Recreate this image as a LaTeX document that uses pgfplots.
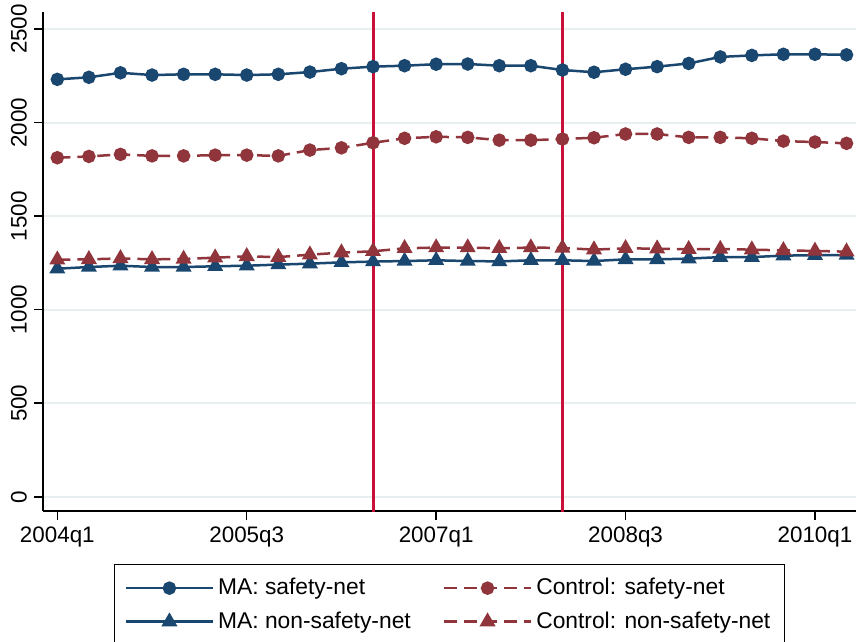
\documentclass[border=0pt]{standalone}
\usepackage{fontspec}
\setmainfont{Liberation Sans}
\usepackage{pgfplots}
\usepackage{pgfplotstable}
\pgfplotsset{compat=1.18}
\definecolor{stnavy}{RGB}{26,71,111}
\definecolor{stmaroon}{RGB}{144,53,59}
\definecolor{stcran}{RGB}{200,16,56}
\definecolor{stgrid}{RGB}{232,239,241}

\pgfplotstableread{
q masn ctsn mans ctns
0 2231 1812 1219 1267
1 2242 1819 1228 1269
2 2266 1830 1235 1274
3 2254 1822 1228 1269
4 2258 1822 1228 1271
5 2258 1826 1232 1278
6 2254 1826 1235 1285
7 2258 1822 1241 1281
8 2270 1853 1246 1294
9 2288 1865 1253 1305
10 2299 1892 1257 1312
11 2304 1916 1260 1328
12 2312 1924 1264 1332
13 2313 1921 1260 1332
14 2304 1906 1258 1328
15 2304 1906 1264 1332
16 2281 1912 1264 1330
17 2269 1919 1260 1321
18 2285 1939 1269 1328
19 2299 1939 1269 1326
20 2316 1921 1273 1323
21 2351 1921 1281 1324
22 2359 1916 1281 1321
23 2365 1901 1289 1317
24 2365 1896 1291 1314
25 2362 1889 1292 1310
}\datatable

\begin{document}
\begin{tikzpicture}
\useasboundingbox (0,0) rectangle (428pt,-321pt);
\begin{axis}[
  at={(21.5pt,-255.5pt)}, anchor=south west,
  scale only axis, width=406.5pt, height=249.5pt,
  xmin=-0.454, xmax=25.3, ymin=-76, ymax=2591,
  axis x line*=bottom, axis y line*=left,
  axis line style={line width=0.75pt, -},
  tick align=outside, major tick length=4.5pt,
  tick style={line width=0.75pt, black},
  xtick={0,6,12,18,24},
  xticklabels={2004q1,2005q3,2007q1,2008q3,2010q1},
  ytick={0,500,1000,1500,2000,2500},
  ymajorgrids, grid style={stgrid, line width=1pt},
  tick label style={font=\fontsize{11.2}{13}\selectfont},
  yticklabel style={rotate=90, anchor=south},
  /pgf/number format/assume math mode=true,
  /pgf/number format/1000 sep={},
  legend columns=2,
  legend cell align=left,
  legend style={at={(0.5,-0.1062)}, anchor=north, draw=black,
    font=\fontsize{11.4}{13}\selectfont, inner xsep=5pt, inner ysep=5pt,
    row sep=3pt,
    /tikz/every even column/.append style={column sep=14pt}},
  legend image code/.code={\draw[mark repeat=2,mark phase=2] plot coordinates {(0pt,0pt) (21.75pt,0pt) (43.5pt,0pt)};},
]
\addplot[stcran, line width=1.5pt, forget plot] coordinates {(10,-200) (10,2800)};
\addplot[stcran, line width=1.5pt, forget plot] coordinates {(16,-200) (16,2800)};

\addplot[stnavy, line width=1.25pt, mark=*, mark size=2.75pt, mark options={solid}] table[x=q,y=masn] {\datatable};
\addlegendentry{MA: safety-net}
\addplot[stmaroon, line width=1.25pt, dash pattern=on 6.5pt off 3.5pt, mark=*, mark size=2.75pt, mark options={solid}] table[x=q,y=ctsn] {\datatable};
\addlegendentry{Control: safety-net}
\addplot[stnavy, line width=1.25pt, mark=triangle*, mark size=3.4pt, mark options={solid}] table[x=q,y=mans] {\datatable};
\addlegendentry{MA: non-safety-net}
\addplot[stmaroon, line width=1.25pt, dash pattern=on 6.5pt off 3.5pt, mark=triangle*, mark size=3.4pt, mark options={solid}] table[x=q,y=ctns] {\datatable};
\addlegendentry{Control: non-safety-net}
\end{axis}
\end{tikzpicture}
\end{document}
